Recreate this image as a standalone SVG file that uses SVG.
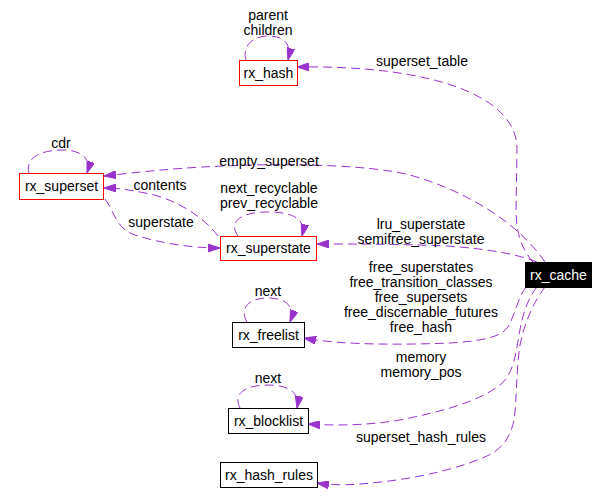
<svg xmlns="http://www.w3.org/2000/svg" width="608" height="504" viewBox="0 0 608 504">
<style>
text{font-family:"Liberation Sans",Arial,sans-serif;font-size:14px;fill:#000;text-anchor:middle}
.box{fill:#fff;stroke:#000;stroke-width:1}
.red{stroke:#ff0000}
.e{fill:none;stroke:#9a32cd;stroke-width:1;stroke-dasharray:9,5}
.cache{fill:#000;stroke:#000}
.w{fill:#fff}
</style>
<defs>
<marker id="ah" viewBox="0 0 12 8" refX="12" refY="4" markerWidth="12" markerHeight="8" markerUnits="userSpaceOnUse" orient="auto">
<path d="M0,0 L12,4 L0,8 z" fill="#9a32cd" stroke="#9a32cd"/>
</marker>
</defs>
<rect width="608" height="504" fill="#fff"/>
<g id="connectors">
<path class="e" marker-end="url(#ah)" d="M246,60 C242,47 252,36 268,36 C284,36 292,44 288,60"/>
<path class="e" marker-end="url(#ah)" d="M29,173 C25,158 40,150 63,150 C80,150 92,158 87,173"/>
<path class="e" marker-end="url(#ah)" d="M238,236 C228,222 240,212 268,212 C295,212 306,220 302,236"/>
<path class="e" marker-end="url(#ah)" d="M247,322 C238,306 252,298 268,298 C285,298 296,306 290,322"/>
<path class="e" marker-end="url(#ah)" d="M240,408 C232,392 248,385 268,385 C288,385 300,392 297,408"/>
<path class="e" marker-end="url(#ah)" d="M533,262 C521,248 516,232 516,210 L517,150 C518,95 430,65 297,67"/>
<path class="e" marker-end="url(#ah)" d="M545,262 C520,225 470,192 410,175 C370,165 300,164 250,165 C180,167 140,172 104,176"/>
<path class="e" marker-end="url(#ah)" d="M218,236 C205,218 175,198 145,193 C130,190 118,188 104,188"/>
<path class="e" marker-end="url(#ah)" d="M105,199 C115,212 115,228 135,235 C160,243 190,248 220,248"/>
<path class="e" marker-end="url(#ah)" d="M537,262 C520,255 490,249 447,246 C400,244 360,244 317,244"/>
<path class="e" marker-end="url(#ah)" d="M526,287 C518,297 515,315 508,327 C500,338 480,341 450,343 C400,345 340,345 304,338"/>
<path class="e" marker-end="url(#ah)" d="M537,287 C528,298 522,315 519,335 C515,360 512,375 500,385 C480,400 450,410 400,420 C370,425 340,426 308,424"/>
<path class="e" marker-end="url(#ah)" d="M545,287 C535,300 525,320 520,345 C516,370 517,400 514,420 C510,440 500,450 487,456 C460,468 420,478 380,482 C355,485 335,486 317,483"/>
<text x="268" y="20">parent</text>
<text x="268" y="35">children</text>
<text x="61" y="148">cdr</text>
<text x="422" y="66">superset_table</text>
<text x="269" y="166">empty_superset</text>
<text x="160" y="190">contents</text>
<text x="161" y="227">superstate</text>
<text x="269" y="193">next_recyclable</text>
<text x="269" y="208">prev_recyclable</text>
<text x="421" y="229">lru_superstate</text>
<text x="421" y="244">semifree_superstate</text>
<text x="421" y="272">free_superstates</text>
<text x="421" y="287">free_transition_classes</text>
<text x="421" y="302">free_supersets</text>
<text x="421" y="317">free_discernable_futures</text>
<text x="421" y="332">free_hash</text>
<text x="268" y="296">next</text>
<text x="421" y="362">memory</text>
<text x="421" y="377">memory_pos</text>
<text x="268" y="383">next</text>
<text x="421" y="442">superset_hash_rules</text>
</g>
<g id="rx_hash"><rect class="box red" x="239.5" y="60.5" width="58" height="25"/><text x="268.5" y="78">rx_hash</text></g>
<g id="rx_superset"><rect class="box red" x="19.5" y="173.5" width="84" height="26"/><text x="61.5" y="191">rx_superset</text></g>
<g id="rx_superstate"><rect class="box red" x="220.5" y="236.5" width="96" height="24"/><text x="268.5" y="253">rx_superstate</text></g>
<g id="rx_cache"><rect class="cache" x="525.5" y="262.5" width="66" height="25"/><text class="w" x="558.5" y="280">rx_cache</text></g>
<g id="rx_freelist"><rect class="box" x="232.5" y="322.5" width="72" height="25"/><text x="268.5" y="340">rx_freelist</text></g>
<g id="rx_blocklist"><rect class="box" x="228.5" y="408.5" width="80" height="25"/><text x="268.5" y="426">rx_blocklist</text></g>
<g id="rx_hash_rules"><rect class="box" x="220.5" y="462.5" width="97" height="25"/><text x="269" y="480">rx_hash_rules</text></g>
</svg>
